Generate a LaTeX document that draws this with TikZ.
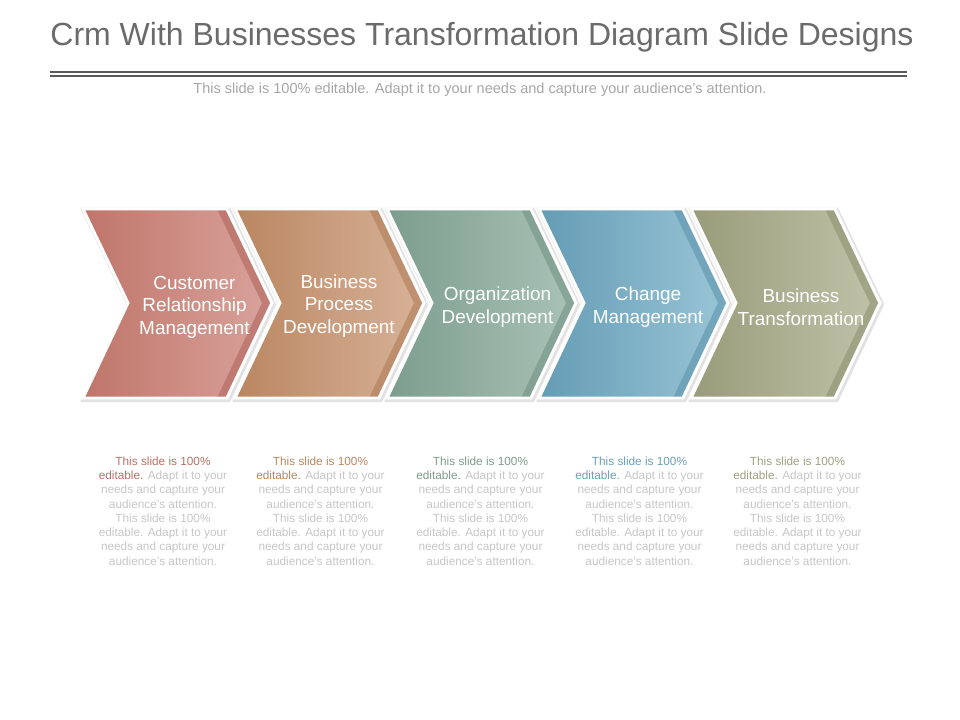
\documentclass[tikz,border=0pt]{standalone}
\usepackage{fontspec}
\setmainfont{Liberation Sans}
\usetikzlibrary{positioning,calc}

\definecolor{titlegray}{HTML}{6B6B6B}
\definecolor{rulegray}{HTML}{5A5A5A}
\definecolor{subgray}{HTML}{A6A6A6}
\definecolor{notegray}{HTML}{C6C6C6}
\definecolor{shadowgray}{HTML}{E2E2E2}
% chevron colours: left, right, side band, note highlight
\definecolor{crmL}{HTML}{BF7569}\definecolor{crmR}{HTML}{D9A39C}\definecolor{crmD}{HTML}{AE6158}\definecolor{crmT}{HTML}{B87065}
\definecolor{bpdL}{HTML}{B98660}\definecolor{bpdR}{HTML}{D8B299}\definecolor{bpdD}{HTML}{AD7852}\definecolor{bpdT}{HTML}{B7875F}
\definecolor{orgL}{HTML}{7C9D8D}\definecolor{orgR}{HTML}{A9C3B7}\definecolor{orgD}{HTML}{6E9080}\definecolor{orgT}{HTML}{7E9B8E}
\definecolor{chgL}{HTML}{649CB5}\definecolor{chgR}{HTML}{9AC5D6}\definecolor{chgD}{HTML}{5790A8}\definecolor{chgT}{HTML}{6A9FB5}
\definecolor{bztL}{HTML}{989C7A}\definecolor{bztR}{HTML}{C0C3A8}\definecolor{bztD}{HTML}{8A8E6C}\definecolor{bztT}{HTML}{9EA081}

\begin{document}
\begin{tikzpicture}[x=0.75pt,y=-0.75pt]
        \tikzset{
            heading/.style={text=titlegray, font=\fontsize{24}{28}\selectfont},
            subheading/.style={text=subgray, font=\fontsize{10.9}{13}\selectfont},
            stage/.style={text=white, align=center, font=\fontsize{14.2}{16.9}\selectfont},
            note/.style={text=notegray, align=center, font=\fontsize{8.85}{10.7}\selectfont},
        }

        \useasboundingbox (0,0) rectangle (960,720);

        \node[heading] (title) at (482,37) {Crm With Businesses Transformation Diagram Slide Designs};
        \coordinate (ruleL) at (50,72);
        \coordinate (ruleR) at (907,72);
        \draw[rulegray, line width=1.4pt] (ruleL) -- (ruleR);
        \draw[rulegray, line width=1.4pt] ([yshift=-4*0.75pt]ruleL) -- ([yshift=-4*0.75pt]ruleR);
        \node[subheading] (subtitle) at (480,90) {This slide is 100\% editable. Adapt it to your needs and capture your audience's attention.};

        % chevrons
        \foreach \i/\c in {0/crm,1/bpd,2/org,3/chg,4/bzt}{
            \pgfmathsetmacro{\x}{83+152*\i}
            \draw[shadowgray, line width=4pt, line join=miter, xshift=1pt, yshift=-1pt]
                (\x,209) -- ++(144,0) -- ++(45,94) -- ++(-45,95) -- ++(-144,0) -- ++(45,-95) -- cycle;
            \shade[left color=\c L, right color=\c R]
                (\x,209) -- ++(144,0) -- ++(45,94) -- ++(-45,95) -- ++(-144,0) -- ++(45,-95) -- cycle;
            \fill[\c D, opacity=0.55]
                (\x+134,209) -- (\x+142,209) -- (\x+187,303) -- (\x+142,398) -- (\x+134,398) -- (\x+179,303) -- cycle;
            \draw[white, line width=2.2pt, line join=miter]
                (\x,209) -- ++(144,0) -- ++(45,94) -- ++(-45,95) -- ++(-144,0) -- ++(45,-95) -- cycle;
        }

        \node[stage] (crm) at (194.5,307) {Customer\\Relationship\\Management};
        \node[stage] (bpd) at (339,306) {Business\\Process\\Development};
        \node[stage] (org) at (497.5,307) {Organization\\Development};
        \node[stage] (chg) at (648,307) {Change\\Management};
        \node[stage] (bzt) at (801,307) {Business\\Transformation};

        % notes below
        \foreach \c/\xx in {crm/163,bpd/320.5,org/480.5,chg/639.5,bzt/797.5}{
            \node[note] (\c note) at (\xx,511) {\textcolor{\c T}{This slide is 100\%}\\
                \textcolor{\c T}{editable.} Adapt it to your\\needs and capture your\\audience's attention.\\
                This slide is 100\%\\editable. Adapt it to your\\needs and capture your\\audience's attention.};
        }
\end{tikzpicture}
\end{document}
